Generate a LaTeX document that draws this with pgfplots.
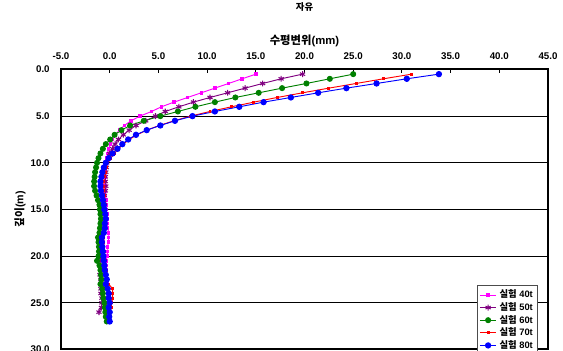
\documentclass[border=0pt]{standalone}
\usepackage{fontspec}
\setmainfont{Liberation Sans}
\newfontfamily\kr{Noto Sans CJK KR}
\usepackage{pgfplots}
\pgfplotsset{compat=1.18}
\usepackage{pgfplotstable}
\usetikzlibrary{calc}
\definecolor{cM}{RGB}{255,0,255}
\definecolor{cP}{RGB}{128,0,128}
\definecolor{cG}{RGB}{0,128,0}
\definecolor{cR}{RGB}{255,0,0}
\definecolor{cB}{RGB}{0,0,255}

\pgfplotstableread{
d s40 s50 s60 s70 s80
0.5 15.0 19.8 25.0 31.0 33.8
1.0 13.6 17.6 22.6 28.1 30.5
1.5 12.2 15.7 20.2 25.3 27.4
2.0 10.8 13.9 17.7 22.5 24.3
2.5 9.4 12.1 15.3 19.8 21.4
3.0 8.0 10.3 12.9 17.2 18.6
3.5 6.6 8.6 10.8 14.8 15.8
4.0 5.3 7.1 8.8 12.5 13.3
4.5 4.3 5.7 7.0 10.3 10.8
5.0 3.1 4.7 5.2 8.3 8.5
5.5 2.2 3.7 3.5 6.6 6.7
6.0 1.5 2.7 2.1 5.1 5.2
6.5 1.0 2.0 1.2 3.8 3.8
7.0 0.6 1.4 0.5 2.8 2.7
7.5 0.3 0.9 0.05 2.0 1.9
8.0 0.1 0.55 -0.4 1.4 1.3
8.5 -0.1 0.3 -0.7 0.9 0.8
9.0 -0.2 0.0 -0.95 0.5 0.3
9.5 -0.3 -0.15 -1.15 0.1 -0.1
10.0 -0.4 -0.3 -1.3 -0.2 -0.4
10.5 -0.4 -0.35 -1.4 -0.35 -0.6
11.0 -0.45 -0.4 -1.5 -0.45 -0.75
11.5 -0.5 -0.45 -1.55 -0.55 -0.85
12.0 -0.5 -0.45 -1.6 -0.6 -0.95
12.5 -0.5 -0.4 -1.6 -0.6 -0.95
13.0 -0.5 -0.45 -1.5 -0.6 -0.9
13.5 -0.45 -0.55 -1.35 -0.55 -0.8
14.0 -0.4 -0.6 -1.2 -0.5 -0.7
14.5 -0.4 -0.6 -1.05 -0.45 -0.6
15.0 -0.35 -0.5 -1.0 -0.4 -0.55
15.5 -0.3 -0.5 -0.95 -0.4 -0.45
16.0 -0.3 -0.45 -0.9 -0.35 -0.4
16.5 -0.25 -0.55 -0.95 -0.4 -0.5
17.0 -0.2 -0.65 -1.0 -0.45 -0.5
17.5 -0.1 -0.7 -1.05 -0.5 -0.6
18.0 -0.1 -0.8 -1.2 -0.6 -0.8
18.5 -0.15 -0.8 -1.15 -0.6 -0.8
19.0 -0.2 -0.8 -1.1 -0.6 -0.75
19.5 -0.2 -0.85 -1.1 -0.55 -0.7
20.0 -0.3 -0.85 -1.15 -0.5 -0.65
20.5 -0.35 -1.0 -1.3 -0.45 -0.6
21.0 -0.4 -0.95 -1.05 -0.4 -0.55
21.5 -0.4 -0.9 -0.95 -0.35 -0.5
22.0 -0.35 -1.0 -0.9 -0.3 -0.4
22.5 -0.3 -0.9 -0.85 -0.2 -0.3
23.0 -0.3 -0.85 -0.95 -0.1 -0.4
23.5 -0.25 -0.9 -0.75 0.3 -0.2
24.0 -0.2 -0.9 -0.7 0.3 -0.1
24.5 -0.2 -0.8 -0.65 0.3 -0.1
25.0 -0.2 -0.8 -0.55 0.2 0.0
25.5 -0.15 -0.85 -0.5 0.15 -0.1
26.0 -0.1 -1.1 -0.45 0.1 0.0
26.5 -0.1 nan -0.4 0.05 -0.05
27.0 -0.1 nan -0.3 0.1 0.0
}\data

\begin{document}
\begin{tikzpicture}
\begin{axis}[
  name=ax,
  scale only axis,
  width=365.25pt, height=210pt,
  xmin=-5, xmax=45, ymin=0, ymax=30,
  y dir=reverse,
  xtick={-5,0,...,45},
  xticklabels={-5.0,0.0,5.0,10.0,15.0,20.0,25.0,30.0,35.0,40.0,45.0},
  ytick={0,5,...,30},
  yticklabels={0.0,5.0,10.0,15.0,20.0,25.0,30.0},
  xticklabel pos=upper,
  xtick pos=upper,
  ytick pos=left,
  tick align=inside,
  major tick length=3pt,
  ymajorgrids,
  grid style={black, line width=0.8pt},
  axis line style={black, line width=1.5pt},
  tick style={black, line width=0.8pt},
  ticklabel style={font=\fontsize{7.3}{8.8}\selectfont\bfseries},
  xticklabel style={anchor=center, yshift=10.1pt},
  yticklabel style={anchor=east, xshift=-5pt},
  title={\kr\bfseries 자유},
  title style={at={(axis description cs:0.5,1.195)}, anchor=center, font=\fontsize{7}{8}\selectfont},
  xlabel={{\kr 수평변위}(mm)},
  xlabel style={at={(axis description cs:0.5,1.102)}, anchor=center, font=\fontsize{8.5}{10}\selectfont\bfseries},
  ylabel={{\kr 깊이}(m)},
  ylabel style={at={(axis description cs:-0.084,0.5)}, anchor=center, font=\fontsize{8}{9}\selectfont\bfseries},
  legend style={at={(0.979,0.23)}, anchor=north east, draw=black!70, fill=white,
    font=\fontsize{7}{8}\selectfont\bfseries, inner sep=1.5pt, row sep=-2pt},
  legend cell align=left,
  legend image code/.code={\draw[mark repeat=2,mark phase=2] plot coordinates {(0cm,0cm) (0.22cm,0cm) (0.44cm,0cm)};},
]
\addplot[color=cM, line width=0.7pt, mark=square*, mark size=0.9pt] table[x=s40, y=d] {\data};
\addplot[color=cP, line width=0.7pt, mark=asterisk, mark size=2.2pt, mark options={line width=0.8pt}] table[x=s50, y=d] {\data};
\addplot[color=cG, line width=0.7pt, mark=*, mark size=1.9pt] table[x=s60, y=d] {\data};
\addplot[color=cR, line width=0.7pt, mark=square*, mark size=0.7pt] table[x=s70, y=d] {\data};
\addplot[color=cB, line width=0.7pt, mark=*, mark size=2pt] table[x=s80, y=d] {\data};
\legend{{\kr 실험} 40t,{\kr 실험} 50t,{\kr 실험} 60t,{\kr 실험} 70t,{\kr 실험} 80t}
\end{axis}
\pgfresetboundingbox
\path[use as bounding box] ($(ax.south west)+(-45.75pt,-1.1pt)$) rectangle ($(ax.north east)+(11.25pt,52.1pt)$);
\end{tikzpicture}
\end{document}
